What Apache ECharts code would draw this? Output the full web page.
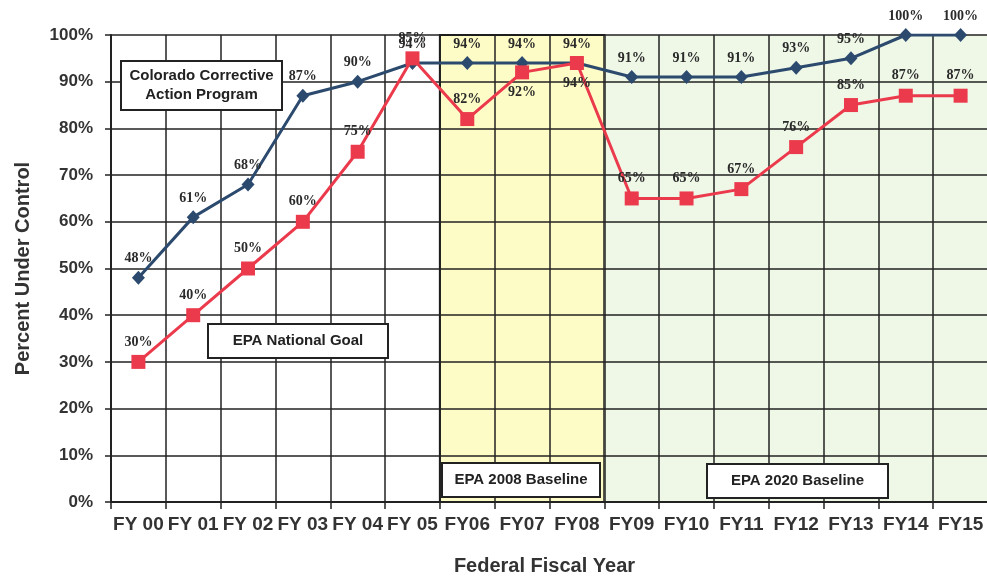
<!DOCTYPE html>
<html>
<head>
<meta charset="utf-8">
<script src="https://cdn.jsdelivr.net/npm/echarts@6/dist/echarts.min.js"></script>
<style>
html,body{margin:0;padding:0;background:#fff;}
#chart{width:987px;height:576px;}
</style>
</head>
<body>
<div id="chart"></div>
<script>
const categories = ['FY 00','FY 01','FY 02','FY 03','FY 04','FY 05','FY06','FY07','FY08','FY09','FY10','FY11','FY12','FY13','FY14','FY15'];
const coloradoValues = [48, 61, 68, 87, 90, 94, 94, 94, 94, 91, 91, 91, 93, 95, 100, 100];
const epaGoalValues = [30, 40, 50, 60, 75, 95, 82, 92, 94, 65, 65, 67, 76, 85, 87, 87];
const yTicks = [0, 10, 20, 30, 40, 50, 60, 70, 80, 90, 100];
const baseline2008 = ['FY06', 'FY08'];
const baseline2020 = ['FY09', 'FY15'];
const redLabelsBelow = ['FY07', 'FY08'];

const chart = echarts.init(document.getElementById('chart'));
const labelFont = {fontFamily: 'Liberation Serif', fontWeight: 'bold', fontSize: 14, color: '#2a2a2a'};

function box(x, y, w, h, lines) {
  return {
    type: 'group', z: 20,
    children: [
      {type: 'rect', shape: {x: x, y: y, width: w, height: h},
       style: {fill: '#fff', stroke: '#222', lineWidth: 2}, z: 20},
      {type: 'text', x: x + w / 2, y: y + h / 2, z: 21,
       style: {text: lines, fill: '#222', font: 'bold 15px "Liberation Sans", Arial, sans-serif',
               align: 'center', verticalAlign: 'middle', lineHeight: 19}}
    ]
  };
}

const idx = c => categories.indexOf(c);

chart.setOption({
  animation: false,
  grid: {left: 111, top: 35, width: 877, height: 467, containLabel: false, outerBoundsMode: 'none'},
  xAxis: [{
    type: 'category', data: categories, boundaryGap: true, z: 3,
    axisLine: {show: true, lineStyle: {color: '#222', width: 2}},
    axisTick: {show: true, length: 7, interval: 0, lineStyle: {color: '#222', width: 1.5}},
    splitLine: {show: true, interval: 0, lineStyle: {color: '#222', width: 1.5}},
    axisLabel: {interval: 0, margin: 13, color: '#333', fontSize: 19, fontWeight: 'bold', fontFamily: 'Liberation Sans'},
    name: 'Federal Fiscal Year', nameLocation: 'middle', nameGap: 54,
    nameTextStyle: {fontSize: 20, fontWeight: 'bold', color: '#333', fontFamily: 'Liberation Sans', padding: [0, 10, 0, 0]}
  }, {
    type: 'value', min: 0, max: categories.length, show: false
  }],
  yAxis: {
    type: 'value', min: yTicks[0], max: yTicks[yTicks.length - 1], interval: 10, z: 3,
    axisLine: {show: true, lineStyle: {color: '#222', width: 2}},
    axisTick: {show: true, length: 6, lineStyle: {color: '#222', width: 1.5}},
    splitLine: {show: true, lineStyle: {color: '#222', width: 1.5}},
    axisLabel: {formatter: '{value}%', margin: 18, color: '#333', fontSize: 17, fontWeight: 'bold', fontFamily: 'Liberation Sans'},
    name: 'Percent Under Control', nameLocation: 'middle', nameGap: 78,
    nameTextStyle: {fontSize: 20, fontWeight: 'bold', color: '#333', fontFamily: 'Liberation Sans'}
  },
  series: [{
    type: 'line', xAxisIndex: 1, data: [], z: 1, silent: true,
    markArea: {
      silent: true,
      data: [
        [{xAxis: idx(baseline2008[0]), itemStyle: {color: '#fdfbc6', borderColor: '#111', borderWidth: 2}},
         {xAxis: idx(baseline2008[1]) + 1}],
        [{xAxis: idx(baseline2020[0]), itemStyle: {color: '#eff7e7'}},
         {xAxis: idx(baseline2020[1]) + 1}]
      ]
    }
  }, {
    name: 'Colorado Corrective Action Program', type: 'line', z: 6,
    data: coloradoValues,
    symbol: 'diamond', symbolSize: [13, 14],
    lineStyle: {color: '#2b4a6e', width: 3},
    itemStyle: {color: '#2b4a6e'},
    label: Object.assign({show: true, position: 'top', distance: 5, formatter: '{c}%'}, labelFont)
  }, {
    name: 'EPA National Goal', type: 'line', z: 7,
    data: epaGoalValues.map((v, i) => redLabelsBelow.includes(categories[i])
      ? {value: v, label: {position: 'bottom', distance: 6}} : v),
    symbol: 'rect', symbolSize: 14,
    lineStyle: {color: '#eb3a4c', width: 3},
    itemStyle: {color: '#eb3a4c'},
    label: Object.assign({show: true, position: 'top', distance: 6, formatter: '{c}%'}, labelFont)
  }],
  graphic: [
    box(121, 61, 161, 49, 'Colorado Corrective\nAction Program'),
    box(208, 324, 180, 34, 'EPA National Goal'),
    box(442, 463, 158, 34, 'EPA 2008 Baseline'),
    box(707, 464, 181, 34, 'EPA 2020 Baseline')
  ]
});
</script>
</body>
</html>
